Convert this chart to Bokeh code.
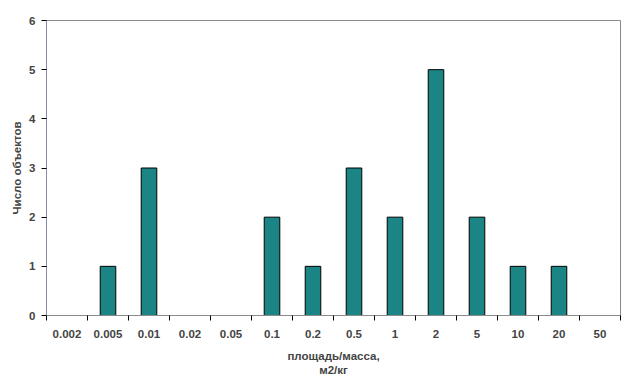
from bokeh.plotting import figure
from bokeh.models import ColumnDataSource, FixedTicker, Range1d
from bokeh.embed import file_html
from bokeh.resources import INLINE

categories = ["0.002", "0.005", "0.01", "0.02", "0.05", "0.1", "0.2",
              "0.5", "1", "2", "5", "10", "20", "50"]
counts = [0, 1, 3, 0, 0, 2, 1, 3, 2, 5, 2, 1, 1, 0]
y_ticks = [0, 1, 2, 3, 4, 5, 6]

n = len(categories)
centers = [i + 0.5 for i in range(n)]
src = ColumnDataSource(dict(x=[c for c, v in zip(centers, counts) if v > 0],
                            top=[v for v in counts if v > 0]))

p = figure(frame_width=574, frame_height=295, output_backend="svg", toolbar_location=None,
           x_range=Range1d(0, n), y_range=Range1d(0, 6),
           min_border_top=20, min_border_right=7, min_border_bottom=70, min_border_left=46)

p.vbar(x="x", top="top", width=0.38, bottom=0, source=src,
       fill_color="#1b8585", line_color="#000000", line_width=1)

p.xgrid.visible = False
p.ygrid.visible = False
p.outline_line_color = "#8a8a8a"
p.outline_line_width = 1

font = "Liberation Sans"

xa = p.xaxis[0]
xa.ticker = FixedTicker(ticks=centers, minor_ticks=list(range(n + 1)))
xa.major_label_overrides = {c: lab for c, lab in zip(centers, categories)}
xa.major_tick_in = 0
xa.major_tick_out = 0
xa.minor_tick_in = 0
xa.minor_tick_out = 5
xa.minor_tick_line_color = "#000000"
xa.axis_line_color = "#8a8a8a"
xa.major_label_text_font = font
xa.major_label_text_font_style = "bold"
xa.major_label_text_font_size = "11.5px"
xa.major_label_standoff = 9
xa.axis_label = "площадь/масса,\nм2/кг"
xa.axis_label_text_font = font
xa.axis_label_text_font_style = "bold"
xa.axis_label_text_font_size = "11.5px"
xa.axis_label_standoff = 9

ya = p.yaxis[0]
ya.ticker = FixedTicker(ticks=y_ticks, minor_ticks=[])
ya.major_tick_in = 0
ya.major_tick_out = 5
ya.major_tick_line_color = "#000000"
ya.axis_line_color = "#8a8aa8"
ya.major_label_text_font = font
ya.major_label_text_font_style = "bold"
ya.major_label_text_font_size = "11.5px"
ya.major_label_standoff = 6
ya.axis_label = "Число объектов"
ya.axis_label_text_font = font
ya.axis_label_text_font_style = "bold"
ya.axis_label_text_font_size = "11.5px"
ya.axis_label_standoff = 3

open("out.html", "w").write(file_html(p, INLINE))
